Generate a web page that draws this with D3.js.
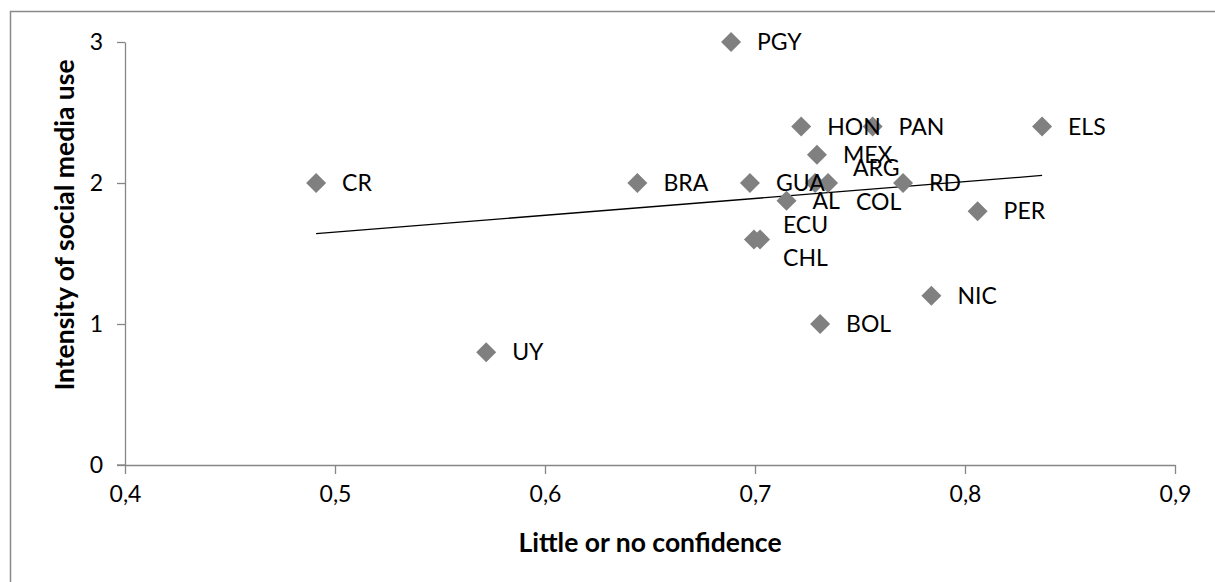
<!DOCTYPE html>
<html>
<head>
<meta charset="utf-8">
<script src="https://cdn.jsdelivr.net/npm/d3@7"></script>
<style>
  body { margin: 0; background: #fff; }
  svg text { font-family: Lato, "Open Sans", sans-serif; fill: #000; }
</style>
</head>
<body>
<div id="container"></div>
<script>
// country codes, share with little or no confidence, intensity of social media use
var countries = ["CR", "UY", "BRA", "PGY", "GUA", "ECU", "CHL", "AL", "HON", "MEX", "BOL", "ARG", "COL", "PAN", "RD", "NIC", "PER", "ELS"];
var confidence = [0.491, 0.572, 0.644, 0.6886, 0.6976, 0.6995, 0.7024, 0.715, 0.722, 0.7295, 0.731, 0.7286, 0.7348, 0.756, 0.7705, 0.784, 0.806, 0.8367];
var intensity = [2.0, 0.8, 2.0, 3.0, 2.0, 1.6, 1.6, 1.875, 2.4, 2.2, 1.0, 2.0, 2.0, 2.4, 2.0, 1.2, 1.8, 2.4];
var xTicks = [0.4, 0.5, 0.6, 0.7, 0.8, 0.9];
var yTicks = [0, 1, 2, 3];

// labels that were dragged off the default spot (px)
var labelNudge = { ECU: [3, -15], CHL: [-3, 18], ARG: [12, -15], COL: [2, 19] };

var width = 1215;
var height = 582;
var svg = d3.select("#container").append("svg");
svg.attr("width", width).attr("height", height);

var points = countries.map(function(c, i) {
  return { id: c, x: confidence[i], y: intensity[i] };
});

var x = d3.scaleLinear().domain([0.4, 0.9]).range([125, 1175]);
var y = d3.scaleLinear().domain([0, 3]).range([465, 42]);

var comma = d3.formatLocale({ decimal: ",", thousands: ".", grouping: [3], currency: ["", ""] });

// chart frame
svg.append("rect")
  .attr("x", 10.5).attr("y", 11.5)
  .attr("width", 1300).attr("height", 700)
  .attr("fill", "none")
  .attr("stroke", "#8a8a8a")
  .attr("stroke-width", 1.5);

var xAxis = svg.append("g")
  .attr("transform", "translate(0," + y(0) + ")")
  .call(d3.axisBottom(x).tickValues(xTicks).tickSize(9).tickSizeOuter(0).tickFormat(comma.format(".1f")));

var yAxis = svg.append("g")
  .attr("transform", "translate(" + x(0.4) + ",0)")
  .call(d3.axisLeft(y).tickValues(yTicks).tickSize(8).tickSizeOuter(0).tickFormat(d3.format("d")));

[xAxis, yAxis].forEach(function(g) {
  g.select(".domain").attr("stroke", "#868686").attr("stroke-width", 1.3);
  g.selectAll(".tick line").attr("stroke", "#868686").attr("stroke-width", 1.3);
  g.selectAll(".tick text").attr("font-size", 23).style("font-family", "Lato, sans-serif").attr("fill", "#000");
});
xAxis.selectAll(".tick text").attr("dy", "1.1em");
yAxis.selectAll(".tick text").attr("x", -22);
// x axis line starts at the y axis tick
xAxis.append("line")
  .attr("x1", x(0.4) - 8).attr("x2", x(0.4))
  .attr("stroke", "#868686").attr("stroke-width", 1.3);

// linear trendline
var mx = d3.mean(points, function(d) { return d.x; });
var my = d3.mean(points, function(d) { return d.y; });
var sxy = d3.sum(points, function(d) { return (d.x - mx) * (d.y - my); });
var sxx = d3.sum(points, function(d) { return (d.x - mx) * (d.x - mx); });
var slope = sxy / sxx;
var intercept = my - slope * mx;
var xExt = d3.extent(points, function(d) { return d.x; });

svg.append("line")
  .attr("x1", x(xExt[0])).attr("y1", y(intercept + slope * xExt[0]))
  .attr("x2", x(xExt[1])).attr("y2", y(intercept + slope * xExt[1]))
  .attr("stroke", "#000")
  .attr("stroke-width", 1.3);

var diamond = {
  draw: function(ctx, size) {
    var r = Math.sqrt(size / 2);
    ctx.moveTo(0, -r);
    ctx.lineTo(r, 0);
    ctx.lineTo(0, r);
    ctx.lineTo(-r, 0);
    ctx.closePath();
  }
};

svg.append("g")
  .selectAll("path")
  .data(points).enter().append("path")
  .attr("d", d3.symbol().type(diamond).size(200))
  .attr("transform", function(d) {
    return "translate(" + x(d.x) + "," + y(d.y) + ")";
  })
  .attr("fill", "#808080");

svg.append("g")
  .selectAll("text")
  .data(points).enter().append("text")
  .attr("x", function(d) {
    var n = labelNudge[d.id] || [0, 0];
    return x(d.x) + 26 + n[0];
  })
  .attr("y", function(d) {
    var n = labelNudge[d.id] || [0, 0];
    return y(d.y) + n[1];
  })
  .attr("dy", "0.36em")
  .attr("font-size", 23)
  .text(function(d) { return d.id; });

// axis titles
svg.append("text")
  .attr("x", 650).attr("y", 552)
  .attr("text-anchor", "middle")
  .attr("font-size", 26.5)
  .attr("font-weight", "bold")
  .text("Little or no confidence");

svg.append("text")
  .attr("transform", "translate(74,225) rotate(-90)")
  .attr("text-anchor", "middle")
  .attr("font-size", 26.5)
  .attr("font-weight", "bold")
  .text("Intensity of social media use");
</script>
</body>
</html>
